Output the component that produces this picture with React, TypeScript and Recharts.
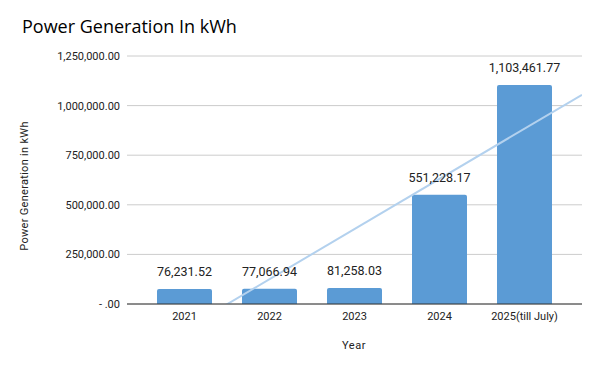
import {
  Bar,
  CartesianGrid,
  ComposedChart,
  LabelList,
  ReferenceLine,
  XAxis,
  YAxis,
} from "recharts";

const years = ["2021", "2022", "2023", "2024", "2025(till July)"];
const generation = [76231.52, 77066.94, 81258.03, 551228.17, 1103461.77];
const yTicks = [0, 250000, 500000, 750000, 1000000, 1250000];

const rows = years.map((year, i) => ({ year, idx: i + 1, kwh: generation[i] }));

// linear trendline, same idea as the sheet's trendline (x = 1..n)
const n = generation.length;
const xs = generation.map((_, i) => i + 1);
const meanX = xs.reduce((a, b) => a + b, 0) / n;
const meanY = generation.reduce((a, b) => a + b, 0) / n;
const slope =
  xs.reduce((s, x, i) => s + (x - meanX) * (generation[i] - meanY), 0) /
  xs.reduce((s, x) => s + (x - meanX) * (x - meanX), 0);
const intercept = meanY - slope * meanX;

const SIDE_PAD = 15;
const BAND = 85;
const xMin = 1 - (SIDE_PAD + BAND / 2) / BAND;
const xMax = n + (SIDE_PAD + BAND / 2) / BAND;

const money = (v: number) =>
  v === 0
    ? "-   .00"
    : v.toLocaleString("en-US", { minimumFractionDigits: 2, maximumFractionDigits: 2 });

const font = "Roboto, 'Open Sans', sans-serif";

export default function App() {
  return (
    <div style={{ position: "absolute", left: 0, top: 0, width: 600, height: 371, background: "#fff" }}>
      <div
        style={{
          position: "absolute",
          left: 22,
          top: 14,
          fontFamily: "'Open Sans', sans-serif",
          fontSize: 18,
          color: "#000",
          whiteSpace: "nowrap",
        }}
      >
        Power Generation In kWh
      </div>
      <div
        style={{
          position: "absolute",
          left: 24,
          top: 186,
          transform: "translate(-50%, -50%) rotate(-90deg)",
          fontFamily: font,
          fontSize: 11,
          color: "#222",
          whiteSpace: "nowrap",
          letterSpacing: 0.3,
        }}
      >
        Power Generation in kWh
      </div>
      <div
        style={{
          position: "absolute",
          left: 354,
          top: 345,
          transform: "translate(-50%, -50%)",
          fontFamily: font,
          fontSize: 11,
          color: "#222",
          letterSpacing: 0.5,
        }}
      >
        Year
      </div>
      <ComposedChart
        width={600}
        height={371}
        data={rows}
        margin={{ top: 56, right: 18, bottom: 0, left: 0 }}
        style={{ fontFamily: font }}
      >
        <CartesianGrid stroke="#cccccc" vertical={false} />
        <XAxis
          dataKey="year"
          height={67}
          padding={{ left: SIDE_PAD, right: SIDE_PAD }}
          tickLine={false}
          tickSize={0}
          tickMargin={8}
          axisLine={{ stroke: "#333333" }}
          tick={{ fontSize: 11, fill: "#222" }}
          interval={0}
        />
        <XAxis
          xAxisId="trend"
          dataKey="idx"
          type="number"
          domain={[xMin, xMax]}
          allowDataOverflow
          hide
        />
        <YAxis
          width={127}
          domain={[0, 1250000]}
          ticks={yTicks}
          tickFormatter={money}
          axisLine={false}
          tickLine={false}
          tickSize={0}
          tickMargin={7}
          tick={{ fontSize: 11, fill: "#222" }}
        />
        <Bar dataKey="kwh" fill="#5b9bd5" barSize={55} radius={[2, 2, 0, 0]} isAnimationActive={false}>
          <LabelList
            dataKey="kwh"
            position="top"
            offset={13}
            formatter={(v: number) => money(v)}
            style={{ fontSize: 12.5, fill: "#222" }}
          />
        </Bar>
        <ReferenceLine
          xAxisId="trend"
          segment={[
            { x: xMin, y: intercept + slope * xMin },
            { x: xMax, y: intercept + slope * xMax },
          ]}
          stroke="#b3d1ee"
          strokeWidth={2}
          ifOverflow="hidden"
        />
      </ComposedChart>
    </div>
  );
}
